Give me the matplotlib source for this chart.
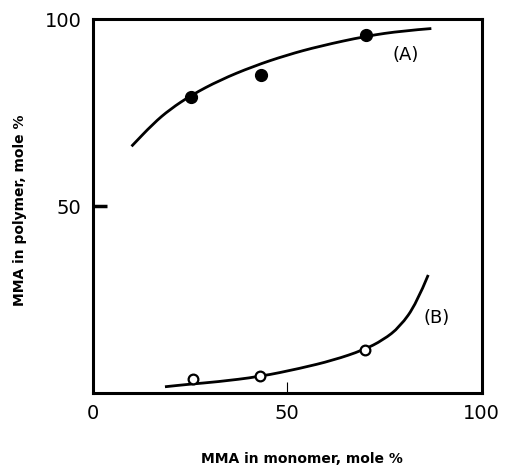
import matplotlib
matplotlib.use("Agg")
import matplotlib.pyplot as plt
from matplotlib.path import Path
from matplotlib.patches import PathPatch

# Measured data points
a_pts_x = [25.4, 43.4, 70.4]
a_pts_y = [79.3, 85.0, 95.8]
b_pts_x = [25.9, 43.0, 70.0]
b_pts_y = [3.7, 4.5, 11.5]

# Curves
a_curve_x = [10.0, 15.6, 19.9, 25.4, 32.7, 41.3, 49.9, 58.4, 70.4, 79.8, 87.1]
a_curve_y = [66.0, 72.1, 75.9, 79.7, 83.7, 87.4, 90.4, 92.8, 95.5, 96.9, 97.5]
b_curve_x = [18.6, 25.0, 31.9, 43.0, 53.3, 61.9, 69.6, 74.7, 79.0, 83.3, 86.3]
b_curve_y = [1.7, 2.4, 3.0, 4.4, 6.6, 8.8, 11.5, 14.2, 17.7, 24.0, 31.6]

xticks = [0, 50, 100]
yticks = [50, 100]


def smooth_path(xs, ys):
    pts = list(zip(xs, ys))
    verts = [pts[0]]
    codes = [Path.MOVETO]
    first_mid = ((pts[0][0] + pts[1][0]) / 2, (pts[0][1] + pts[1][1]) / 2)
    verts.append(first_mid)
    codes.append(Path.LINETO)
    for i in range(1, len(pts) - 1):
        nxt = pts[i + 1]
        end = nxt if i == len(pts) - 2 else ((pts[i][0] + nxt[0]) / 2, (pts[i][1] + nxt[1]) / 2)
        verts += [pts[i], end]
        codes += [Path.CURVE3, Path.CURVE3]
    return Path(verts, codes)


fig = plt.figure(figsize=(5.09, 4.68), dpi=100)
ax = fig.add_axes([0.182, 0.160, 0.764, 0.799])

for cx, cy in ((a_curve_x, a_curve_y), (b_curve_x, b_curve_y)):
    ax.add_patch(PathPatch(smooth_path(cx, cy), facecolor="none",
                           edgecolor="black", lw=2.0, capstyle="butt"))
ax.plot(a_pts_x, a_pts_y, "o", color="black", ms=8.5)
ax.plot(b_pts_x, b_pts_y, "o", mfc="white", mec="black", mew=1.6, ms=7)

ax.set_xlim(0, 100)
ax.set_ylim(0, 100)
ax.set_xticks(xticks)
ax.set_yticks(yticks)
ax.set_xticklabels([str(v) for v in xticks], fontsize=14)
ax.set_yticklabels([str(v) for v in yticks], fontsize=14)
ax.tick_params(axis="y", direction="in", length=10, width=2.5, pad=8)
ax.tick_params(axis="x", direction="in", length=8, width=0.8, pad=8)
ax.yaxis.get_major_ticks()[1].tick1line.set_visible(False)
for t in (ax.xaxis.get_major_ticks()[0], ax.xaxis.get_major_ticks()[2]):
    t.tick1line.set_visible(False)
for s in ax.spines.values():
    s.set_linewidth(2.2)

ax.text(80.5, 90.5, "(A)", fontsize=13, ha="center", va="center")
ax.text(88.5, 20.0, "(B)", fontsize=13, ha="center", va="center")

fig.text(302 / 509, 1 - 459 / 468, "MMA in monomer, mole %", fontsize=10,
         fontweight="bold", ha="center", va="center")
fig.text(20 / 509, 1 - 210 / 468, "MMA in polymer, mole %", fontsize=10,
         fontweight="bold", ha="center", va="center", rotation=90)

fig.savefig("out.png", dpi=100)
